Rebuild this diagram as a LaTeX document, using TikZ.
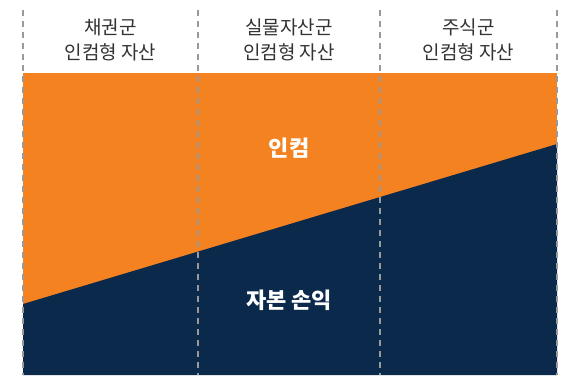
\documentclass[tikz,border=0pt]{standalone}
\usepackage{fontspec}
\setmainfont{Noto Sans CJK KR}
\definecolor{incorange}{HTML}{F58220}
\definecolor{capnavy}{HTML}{0B2A4B}
\definecolor{divgray}{HTML}{9A9A9A}
\begin{document}
\begin{tikzpicture}[x=1pt,y=-1pt,
  header/.style={font=\fontsize{19}{25}\selectfont, text=black!80, align=center, inner sep=0pt},
  bandlabel/.style={font=\fontsize{22}{26}\selectfont\bfseries, text=white, inner sep=0pt},
  divider/.style={draw=divgray, line width=2pt, dash pattern=on 6pt off 5pt}]
\useasboundingbox (0,0) rectangle (572,375);
\fill[white] (0,0) rectangle (572,375);
% bands
\fill[incorange] (23,73) rectangle (557,375);
\fill[capnavy] (23,304) -- (557,144) -- (557,375) -- (23,375) -- cycle;
% dividers
\foreach \x/\n in {23/a,198/b,380/c,557/d}{
  \coordinate (top\n) at (\x,10);
  \coordinate (bot\n) at (\x,375);
  \draw[divider] (top\n) -- (bot\n);
}
% headers
\node[header] (h1) at (110.5,40) {채권군\\인컴형 자산};
\node[header] (h2) at (289,40) {실물자산군\\인컴형 자산};
\node[header] (h3) at (468.5,40) {주식군\\인컴형 자산};
% band labels
\node[bandlabel] (inc) at (289,148) {인컴};
\node[bandlabel] (cap) at (289,300) {자본 손익};
\end{tikzpicture}
\end{document}
